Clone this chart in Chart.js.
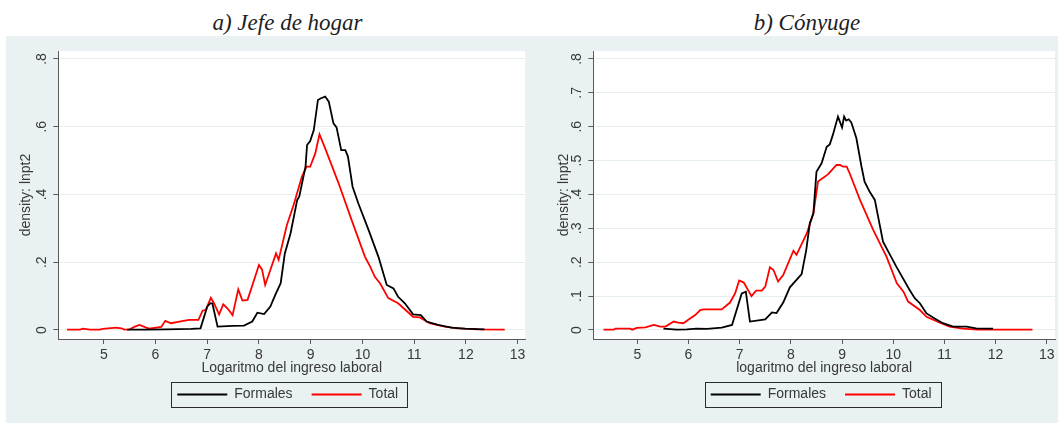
<!DOCTYPE html>
<html>
<head>
<meta charset="utf-8">
<script src="https://cdn.jsdelivr.net/npm/chart.js@4.4.0/dist/chart.umd.min.js"></script>
<style>
  html, body { margin: 0; padding: 0; background: #ffffff; }
  body { width: 1058px; height: 423px; position: relative; overflow: hidden; }
  .region { position: absolute; left: 6px; top: 36px; width: 1052px; height: 387px; background: #e9f1f3; }
  .ttl { position: absolute; top: 10px; line-height: 23px; font: italic 23px "Liberation Serif", "DejaVu Serif", serif;
         color: #1e1e1e; white-space: nowrap; transform: translateX(-50%); }
  canvas { position: absolute; }
</style>
</head>
<body>
<div class="region"></div>
<div class="ttl" style="left:287.5px">a) Jefe de hogar</div>
<div class="ttl" style="left:807px">b) Cónyuge</div>
<canvas id="chartA" width="522" height="387" style="left:6px;top:36px"></canvas>
<canvas id="chartB" width="530" height="387" style="left:528px;top:36px"></canvas>
<script>
// Kernel densities of log labour income, heads of household (A) and spouses (B)
const seriesNames = ['Formales', 'Total'];
const xTickValues = [5, 6, 7, 8, 9, 10, 11, 12, 13];

const yTicksA = [0, 0.2, 0.4, 0.6, 0.8];
const yTickLabelsA = ['0', '.2', '.4', '.6', '.8'];
const yTicksB = [0, 0.1, 0.2, 0.3, 0.4, 0.5, 0.6, 0.7, 0.8];
const yTickLabelsB = ['0', '.1', '.2', '.3', '.4', '.5', '.6', '.7', '.8'];

// Jefe de hogar — Formales
const formalesA_x = [5.45, 5.8, 6.2, 6.69, 6.87, 7.0, 7.06, 7.1, 7.2, 7.49, 7.71, 7.87, 7.97, 8.1, 8.22, 8.32, 8.42, 8.5, 8.61, 8.74, 8.78, 8.9, 8.93, 8.99, 9.06, 9.14, 9.2, 9.28, 9.35, 9.44, 9.5, 9.59, 9.67, 9.72, 9.81, 9.92, 10.12, 10.31, 10.47, 10.6, 10.69, 10.82, 10.98, 11.13, 11.24, 11.46, 11.72, 11.98, 12.36];
const formalesA_y = [0.001, 0.001, 0.002, 0.003, 0.005, 0.069, 0.079, 0.078, 0.01, 0.012, 0.013, 0.025, 0.051, 0.047, 0.069, 0.105, 0.138, 0.226, 0.285, 0.384, 0.394, 0.482, 0.546, 0.558, 0.59, 0.679, 0.684, 0.689, 0.674, 0.61, 0.598, 0.531, 0.531, 0.512, 0.423, 0.374, 0.295, 0.216, 0.133, 0.123, 0.098, 0.079, 0.046, 0.044, 0.025, 0.015, 0.007, 0.004, 0.002];

// Jefe de hogar — Total
const totalA_x = [4.29, 4.54, 4.6, 4.73, 4.92, 4.98, 5.24, 5.34, 5.4, 5.5, 5.6, 5.69, 5.82, 5.88, 6.11, 6.19, 6.3, 6.46, 6.65, 6.83, 6.91, 6.97, 7.07, 7.13, 7.23, 7.31, 7.39, 7.49, 7.6, 7.68, 7.78, 8.0, 8.06, 8.12, 8.33, 8.38, 8.54, 8.67, 8.83, 8.92, 8.99, 9.09, 9.17, 9.28, 9.54, 9.79, 10.05, 10.15, 10.24, 10.34, 10.5, 10.69, 10.98, 11.11, 11.3, 11.59, 11.85, 12.23, 12.75];
const totalA_y = [0.001, 0.001, 0.004, 0.001, 0.001, 0.003, 0.007, 0.005, 0.001, 0.002, 0.01, 0.015, 0.007, 0.004, 0.009, 0.027, 0.02, 0.025, 0.03, 0.03, 0.057, 0.059, 0.095, 0.079, 0.046, 0.076, 0.064, 0.044, 0.12, 0.087, 0.089, 0.192, 0.178, 0.133, 0.226, 0.207, 0.31, 0.369, 0.453, 0.482, 0.482, 0.522, 0.578, 0.536, 0.433, 0.325, 0.216, 0.187, 0.157, 0.138, 0.094, 0.079, 0.039, 0.037, 0.02, 0.01, 0.005, 0.002, 0.001];

// Cónyuge — Formales
const formalesB_x = [5.51, 5.77, 5.97, 6.16, 6.36, 6.65, 6.85, 7.04, 7.12, 7.2, 7.5, 7.63, 7.72, 7.85, 7.98, 8.11, 8.21, 8.3, 8.37, 8.44, 8.5, 8.6, 8.7, 8.76, 8.82, 8.92, 9.0, 9.04, 9.08, 9.13, 9.18, 9.28, 9.38, 9.44, 9.54, 9.64, 9.8, 10.06, 10.32, 10.42, 10.52, 10.65, 10.81, 10.97, 11.17, 11.43, 11.62, 11.95];
const formalesB_y = [0.004, 0.001, 0.002, 0.004, 0.003, 0.007, 0.015, 0.108, 0.113, 0.025, 0.031, 0.052, 0.05, 0.081, 0.126, 0.148, 0.165, 0.236, 0.315, 0.345, 0.467, 0.492, 0.541, 0.548, 0.576, 0.63, 0.598, 0.63, 0.618, 0.622, 0.613, 0.566, 0.482, 0.438, 0.408, 0.384, 0.261, 0.187, 0.118, 0.094, 0.079, 0.049, 0.034, 0.02, 0.01, 0.01, 0.005, 0.004];

// Cónyuge — Total
const totalB_x = [4.34, 4.54, 4.57, 4.86, 4.9, 4.99, 5.16, 5.32, 5.45, 5.55, 5.71, 5.8, 5.9, 6.03, 6.13, 6.23, 6.29, 6.65, 6.81, 6.91, 6.99, 7.08, 7.23, 7.32, 7.43, 7.5, 7.59, 7.66, 7.75, 7.85, 8.05, 8.11, 8.31, 8.44, 8.53, 8.73, 8.89, 8.96, 9.02, 9.09, 9.15, 9.35, 9.61, 9.87, 10.07, 10.2, 10.29, 10.52, 10.65, 10.9, 11.1, 11.36, 11.65, 12.01, 12.72];
const totalB_y = [0.001, 0.001, 0.004, 0.004, 0.001, 0.006, 0.008, 0.015, 0.01, 0.01, 0.025, 0.022, 0.02, 0.034, 0.044, 0.059, 0.061, 0.061, 0.081, 0.108, 0.146, 0.14, 0.1, 0.116, 0.116, 0.128, 0.185, 0.177, 0.143, 0.162, 0.234, 0.222, 0.285, 0.344, 0.438, 0.46, 0.487, 0.487, 0.482, 0.482, 0.462, 0.384, 0.295, 0.216, 0.138, 0.113, 0.084, 0.059, 0.039, 0.022, 0.01, 0.004, 0.001, 0.001, 0.001];

const TEXT = '#383838';
const AXIS = '#5a5a5a';
const GRID = '#e6eef0';
const FONT_SIZE = 14;

Chart.defaults.font.family = '"Liberation Sans", Arial, sans-serif';
Chart.defaults.font.size = FONT_SIZE;
Chart.defaults.color = TEXT;

const toPoints = (xs, ys) => xs.map((x, i) => ({ x, y: ys[i] }));

// white plot region
const plotBackground = {
  id: 'plotBackground',
  beforeDraw(chart) {
    const { ctx, chartArea: a } = chart;
    ctx.save();
    ctx.fillStyle = '#ffffff';
    ctx.fillRect(a.left, a.top, a.right - a.left, a.bottom - a.top);
    ctx.restore();
  }
};

// framed legend, nudged horizontally
const legendFrame = {
  id: 'legendFrame',
  afterLayout(chart, args, opts) {
    const lg = chart.legend;
    lg.left += opts.shift;
    lg.right += opts.shift;
  },
  afterDraw(chart) {
    const lg = chart.legend;
    const pad = lg.options.labels.padding;
    const rowW = lg.lineWidths[0];
    const start = (lg.left + pad + lg.right - rowW) / 2;
    const end = start + rowW - pad;
    const cy = lg.top + pad + FONT_SIZE / 2;
    const ctx = chart.ctx;
    ctx.save();
    ctx.strokeStyle = '#2b2b2b';
    ctx.lineWidth = 1;
    const l = Math.round(start - 6) + 0.5, t = Math.round(cy - 12.5) + 0.5;
    const r = Math.round(end + 9) + 0.5, b = Math.round(cy + 12.5) + 0.5;
    ctx.strokeRect(l, t, r - l, b - t);
    ctx.restore();
  }
};

function makePanel(id, p) {
  return new Chart(document.getElementById(id), {
    type: 'line',
    data: {
      datasets: [
        { label: seriesNames[0], data: toPoints(p.fx, p.fy), borderColor: '#000000', backgroundColor: '#000000',
          borderWidth: 1.8, pointRadius: 0, tension: 0 },
        { label: seriesNames[1], data: toPoints(p.tx, p.ty), borderColor: '#ff0000', backgroundColor: '#ff0000',
          borderWidth: 1.8, pointRadius: 0, tension: 0 }
      ]
    },
    options: {
      responsive: false,
      animation: false,
      devicePixelRatio: 1,
      layout: { padding: { left: p.padLeft, right: p.padRight, top: 15, bottom: 11.5 } },
      plugins: {
        legend: {
          position: 'bottom',
          fullSize: false,
          labels: { usePointStyle: true, pointStyle: 'line', pointStyleWidth: 50, padding: 19,
                    color: TEXT, font: { size: FONT_SIZE } }
        },
        tooltip: { enabled: false },
        legendFrame: { shift: p.legendShift }
      },
      scales: {
        x: {
          type: 'linear',
          min: p.xMin, max: p.xMax,
          afterBuildTicks: s => { s.ticks = xTickValues.map(v => ({ value: v })); },
          afterFit: s => { s.height = 29.5; },
          grid: { drawOnChartArea: false, tickLength: 5, tickColor: AXIS, tickWidth: 1 },
          border: { color: AXIS, width: 1 },
          ticks: { autoSkip: false, maxRotation: 0, minRotation: 0, padding: 2.6, color: TEXT,
                   callback: v => String(v) },
          title: { display: true, text: p.xTitle, color: TEXT, font: { size: FONT_SIZE },
                   padding: { top: 0, bottom: -7.6 } }
        },
        y: {
          type: 'linear',
          min: -0.0266, max: 0.8236,
          afterBuildTicks: s => { s.ticks = p.yTicks.map(v => ({ value: v })); },
          afterFit: s => { s.width = p.yWidth; },
          grid: { color: GRID, lineWidth: 1, tickLength: 5, tickColor: AXIS, tickWidth: 1 },
          border: { color: AXIS, width: 1 },
          ticks: { autoSkip: false, minRotation: 90, maxRotation: 90, crossAlign: 'center', padding: 5.8,
                   color: TEXT, callback: (v, i) => p.yLabels[i] },
          title: { display: true, text: 'density: lnpt2', color: TEXT, font: { size: FONT_SIZE },
                   padding: { top: 4, bottom: 0 } }
        }
      }
    },
    plugins: [plotBackground, legendFrame]
  });
}

makePanel('chartA', {
  fx: formalesA_x, fy: formalesA_y, tx: totalA_x, ty: totalA_y,
  yTicks: yTicksA, yLabels: yTickLabelsA,
  xMin: 4.121, xMax: 13.146, xTitle: 'Logaritmo del ingreso laboral',
  padLeft: 8.1, padRight: 0.3, yWidth: 44.2, legendShift: -4
});

makePanel('chartB', {
  fx: formalesB_x, fy: formalesB_y, tx: totalB_x, ty: totalB_y,
  yTicks: yTicksB, yLabels: yTickLabelsB,
  xMin: 4.14, xMax: 13.16, xTitle: 'logaritmo del ingreso laboral',
  padLeft: 23.6, padRight: 3, yWidth: 41.7, legendShift: -3
});
</script>
</body>
</html>
